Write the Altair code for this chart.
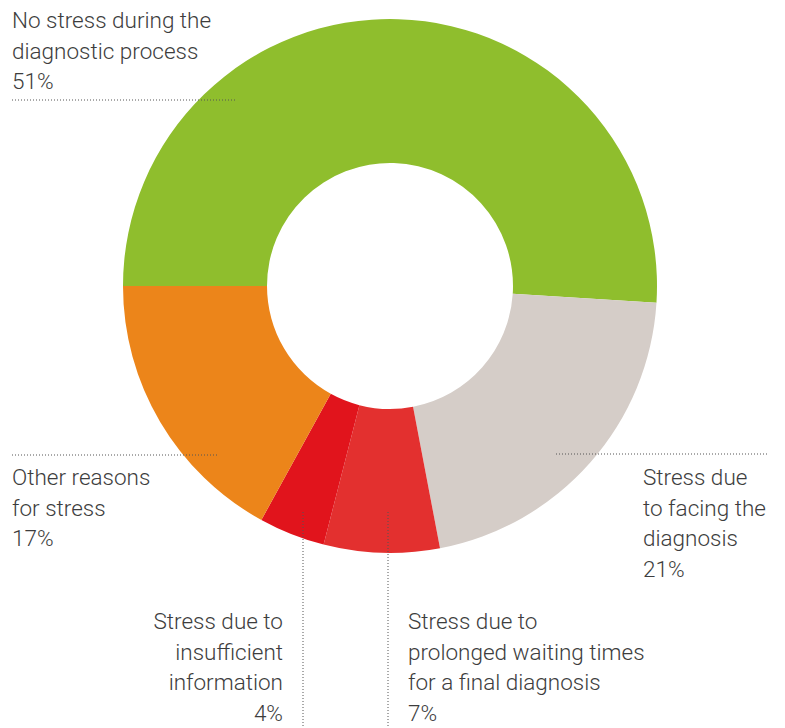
import math
import altair as alt
import pandas as pd

# ---- data ----
categories = [
    "No stress during the diagnostic process",
    "Stress due to facing the diagnosis",
    "Stress due to prolonged waiting times for a final diagnosis",
    "Stress due to insufficient information",
    "Other reasons for stress",
]
shares = [51, 21, 7, 4, 17]
label_text = [
    "No stress during the\ndiagnostic process",
    "Stress due\nto facing the\ndiagnosis",
    "Stress due to\nprolonged waiting times\nfor a final diagnosis",
    "Stress due to\ninsufficient\ninformation",
    "Other reasons\nfor stress",
]

# ---- styles / layout ----
colors = ["#8FBE2D", "#D5CDC8", "#E3302F", "#E1141C", "#EC851A"]
label_x = [4, 635, 400, 275, 4]
label_y = [20, 477, 621, 621, 477]
label_align = ["left", "left", "left", "right", "left"]
FONT = "Roboto"
TXT = "#3d3d3d"

slices = pd.DataFrame({"category": categories, "share": shares, "idx": range(len(categories))})
labels = pd.DataFrame({
    "category": categories,
    "label": [t + "\n" + f"{s}%" for t, s in zip(label_text, shares)],
    "x": label_x,
    "y": label_y,
    "align": label_align,
})

W, H = 769, 720

arc = alt.Chart(slices).mark_arc(outerRadius=267, innerRadius=123, stroke=None).encode(
    theta=alt.Theta("share:Q", stack=True,
                    scale=alt.Scale(range=[-math.pi / 2, 3 * math.pi / 2])),
    order=alt.Order("idx:Q"),
    color=alt.Color("category:N", scale=alt.Scale(domain=categories, range=colors), legend=None),
    x=alt.value(382),
    y=alt.value(278),
)

def text_layer(align):
    return alt.Chart(labels[labels["align"] == align]).mark_text(
        align=align, baseline="alphabetic", lineBreak="\n", lineHeight=30.7,
        font=FONT, fontSize=22.5, fontWeight=300, color=TXT,
    ).encode(
        x=alt.X("x:Q", scale=None),
        y=alt.Y("y:Q", scale=None),
        text="label:N",
    )

dot = dict(strokeDash=[1, 2], color="#555555", strokeWidth=1)
base = alt.Chart(pd.DataFrame({"a": [0]}))
rules = [
    base.mark_rule(**dot).encode(x=alt.value(4), x2=alt.value(228), y=alt.value(92)),
    base.mark_rule(**dot).encode(x=alt.value(4), x2=alt.value(209), y=alt.value(447)),
    base.mark_rule(**dot).encode(x=alt.value(548), x2=alt.value(760), y=alt.value(446)),
    base.mark_rule(**dot).encode(x=alt.value(295), y=alt.value(504), y2=alt.value(720)),
    base.mark_rule(**dot).encode(x=alt.value(380), y=alt.value(504), y2=alt.value(720)),
]

chart = alt.layer(arc, *rules, text_layer("left"), text_layer("right")).properties(
    width=W, height=H, padding=0, autosize=alt.AutoSizeParams(type="none"),
    background="white",
).configure_view(stroke=None)

chart.save("out.html", embed_options={"renderer": "svg", "actions": False})
